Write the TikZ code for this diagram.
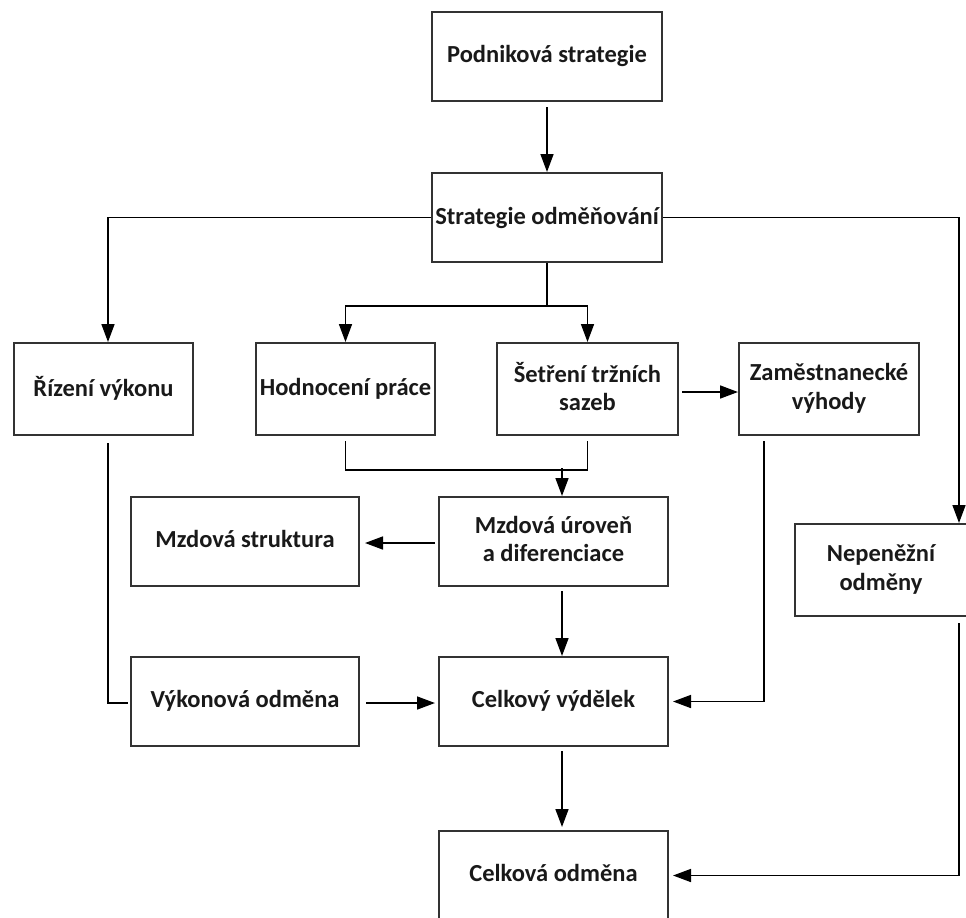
\documentclass[tikz,border=0pt]{standalone}
\usepackage{fontspec}
\setmainfont{Carlito}
\usetikzlibrary{arrows.meta}
\begin{document}
\begin{tikzpicture}[x=1bp,y=-1bp,
  box/.style={draw=black!80, line width=2bp, inner sep=0pt, align=center,
    text=black!90, font=\fontsize{24.5bp}{28.5bp}\selectfont\bfseries},
  conn/.style={line width=1.6bp, black},
  arr/.style={conn, -{Triangle[length=18bp,width=13bp]}}]
\useasboundingbox (0,0) rectangle (966,918);
% boxes
\node[box, minimum width=230bp, minimum height=89bp] (ps) at (547,56.5) {Podniková strategie\rule[-5bp]{0pt}{0pt}};
\node[box, minimum width=230bp, minimum height=89bp] (so) at (547,217.5) {Strategie odměňování};
\node[box, minimum width=179bp, minimum height=92bp] (rv) at (103.5,389) {Řízení výkonu\rule[-5bp]{0pt}{0pt}};
\node[box, minimum width=179bp, minimum height=92bp] (hp) at (345.5,389) {Hodnocení práce\rule[-5bp]{0pt}{0pt}};
\node[box, minimum width=181bp, minimum height=92bp] (st) at (587.5,389) {Šetření tržních\\sazeb\rule[-5bp]{0pt}{0pt}};
\node[box, minimum width=180bp, minimum height=92bp] (zv) at (829,389) {Zaměstnanecké\\výhody\rule[-5bp]{0pt}{0pt}};
\node[box, minimum width=228bp, minimum height=89bp] (ms) at (245,541.5) {Mzdová struktura\rule[-5bp]{0pt}{0pt}};
\node[box, minimum width=229bp, minimum height=89bp] (mu) at (553.5,541.5) {Mzdová úroveň\\a diferenciace\rule[-5bp]{0pt}{0pt}};
\node[box, minimum width=172bp, minimum height=92bp] (nm) at (881,570) {Nepeněžní\\odměny\rule[-5bp]{0pt}{0pt}};
\node[box, minimum width=228bp, minimum height=89bp] (vo) at (245,701.5) {Výkonová odměna\rule[-5bp]{0pt}{0pt}};
\node[box, minimum width=229bp, minimum height=89bp] (cv) at (553.5,701.5) {Celkový výdělek\rule[-5bp]{0pt}{0pt}};
\node[box, minimum width=229bp, minimum height=89bp] (co) at (553.5,875.5) {Celková odměna\rule[-5bp]{0pt}{0pt}};
% connectors
\draw[arr, shorten <=5bp] (ps.south) -- (so.north);
\draw[arr] (so.west) -| ([xshift=4.5bp]rv.north);
\draw[arr] (so.east) -| ([xshift=78bp]nm.north);
\draw[arr] (so.south) -- ++(0,43) -| (hp.north);
\draw[arr] (so.south) -- ++(0,43) -| (st.north);
\draw[arr, shorten <=3bp] ([yshift=-3bp]st.east) -- ([yshift=-3bp]zv.west);
\draw[conn, shorten <=5bp, shorten >=5bp] (hp.south) -- ++(0,34) -| (st.south);
\draw[arr] ([xshift=8.5bp,yshift=28bp]mu.north) -- ([xshift=8.5bp]mu.north);
\draw[arr, shorten <=3bp, shorten >=5bp] ([yshift=-1.5bp]mu.west) -- ([yshift=-1.5bp]ms.east);
\draw[arr, shorten <=4bp] ([xshift=8.5bp]mu.south) -- ([xshift=8.5bp]cv.north);
\draw[conn, shorten <=7bp, shorten >=2bp] ([xshift=4.5bp]rv.south) |- ([yshift=-1.5bp]vo.west);
\draw[arr, shorten <=6bp, shorten >=3bp] ([yshift=-1.5bp]vo.east) -- ([yshift=-1.5bp]cv.west);
\draw[arr, shorten <=5bp, shorten >=4bp] ([xshift=-65bp]zv.south) |- (cv.east);
\draw[arr, shorten <=4bp, shorten >=3bp] ([xshift=8.5bp]cv.south) -- ([xshift=8.5bp]co.north);
\draw[arr, shorten <=6bp, shorten >=4bp] ([xshift=78bp]nm.south) |- (co.east);
\end{tikzpicture}
\end{document}
